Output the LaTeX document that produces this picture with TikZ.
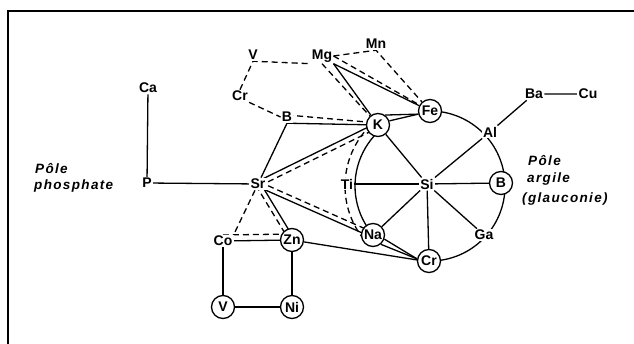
\documentclass[tikz,border=0pt]{standalone}
\usepackage{fontspec}
\setmainfont{Liberation Sans}
\usetikzlibrary{calc}
\pgfdeclarelayer{bg}
\pgfsetlayers{bg,main}
\newcommand\offln[4]{\draw[#1] ($(#2)!#4!90:(#3)$) -- ($(#3)!#4!-90:(#2)$);}
\begin{document}
\begin{tikzpicture}[x=1pt,y=-1pt,
  lbl/.style={fill=white,inner sep=1.2pt,font=\fontsize{14}{15}\selectfont\bfseries},
  cnode/.style={lbl,circle,draw,line width=1.3pt,minimum size=23pt,inner sep=0pt},
  ln/.style={line width=1.3pt},
  dsh/.style={line width=1.3pt,dash pattern=on 6pt off 4pt},
  pole/.style={font=\fontsize{13.5}{15}\selectfont\bfseries\itshape\addfontfeature{LetterSpace=10},inner sep=0pt,anchor=base west}]
\useasboundingbox (0,0) rectangle (634,344);
\draw[line width=1.8pt] (634,11) -- (8,11) -- (8,344);
% nodes
\node[lbl] (Mn) at (376,44) {Mn};
\node[lbl] (Mg) at (322,56) {Mg};
\node[lbl] (V1) at (253,55) {V};
\node[lbl] (Cr1) at (240,96) {Cr};
\node[lbl] (B1) at (287,117) {B};
\node[cnode] (K) at (378,125) {K};
\node[cnode] (Fe) at (430,111) {Fe};
\node[lbl] (Al) at (490,132) {Al};
\node[lbl] (Ba) at (534,94) {Ba};
\node[lbl] (Cu) at (588,94) {Cu};
\node[lbl] (Ca) at (148,88) {Ca};
\node[lbl] (P) at (147,183) {P};
\node[lbl] (Sr) at (258,184) {Sr};
\node[lbl] (Ti) at (347,184) {Ti};
\node[lbl] (Si) at (427,184) {Si};
\node[cnode] (B2) at (501,183) {B};
\node[lbl] (Ga) at (484,235) {Ga};
\node[cnode] (Na) at (373,235) {Na};
\node[cnode] (Cr2) at (429,261) {Cr};
\node[lbl] (Co) at (223,241) {Co};
\node[cnode] (Zn) at (292,240) {Zn};
\node[cnode] (V2) at (223,307) {V};
\node[cnode] (Ni) at (292,307) {Ni};
\coordinate (O) at (430,186);
% pole labels
\node[pole] (pp1) at (35,174) {Pôle};
\node[pole] (pp2) at (34,190) {phosphate};
\node[pole] (pa1) at (528,166) {Pôle};
\node[pole] (pa2) at (527,183) {argile};
\node[pole] (pa3) at (522,203) {(glauconie)};
% connectors
\begin{pgfonlayer}{bg}
\draw[ln] (Ca) -- (P) -- (Sr);
\draw[ln] (Ti) -- (Si);
\foreach \t in {B2,Al,K,Na,Cr2,Ga} \draw[ln] (Si) -- (\t);
\draw[ln] (Al) -- (Ba) -- (Cu);
\draw[ln] (O) ++(-90:75) arc[start angle=-90,end angle=90,radius=75];
\draw[ln] (O) ++(139:75) arc[start angle=139,end angle=230,radius=75];
\draw[dsh] (O) ++(141:85) arc[start angle=141,end angle=228,radius=85];
\draw[ln] (K.55) -- (Fe.195);
\draw[ln] (K.20) -- (Fe.195);
\draw[ln] (Na.-20) -- (Cr2.170);
\draw[ln] (Na.-50) -- (Cr2.170);
\draw[ln] (Zn) -- (Cr2.175);
\draw[dsh] (Cr1.north) -- (V1.south) -- (Mg.south west);
\draw[dsh] (Cr1.south east) -- (B1.west);
\draw[dsh] (Mg.east) -- (Mn.south) -- (Fe);
\draw[dsh] (Mg.east) -- (Fe);
\draw[ln] (Mg.south east) -- (Fe);
\draw[ln] (Mg.south east) -- (K);
\draw[dsh] (Mg.south) -- (K);
\offln{dsh}{B1}{K}{2pt}
\draw[ln] (Sr) -- (B1.south) -- (K);
\offln{ln}{Sr}{K}{2.5pt}
\offln{dsh}{Sr}{K}{-2.5pt}
\offln{dsh}{Sr}{Na}{2.5pt}
\offln{ln}{Sr}{Na}{-2.5pt}
\offln{dsh}{Sr}{Zn}{-2.5pt}
\offln{ln}{Sr}{Zn}{2.5pt}
\draw[dsh] (Sr) -- (Co.north east);
\offln{dsh}{Co}{Zn}{6pt}
\draw[ln] (Co) -- (Zn);
\draw[ln] (Co) -- (V2) -- (Ni) -- (Zn);
\end{pgfonlayer}
\end{tikzpicture}
\end{document}
